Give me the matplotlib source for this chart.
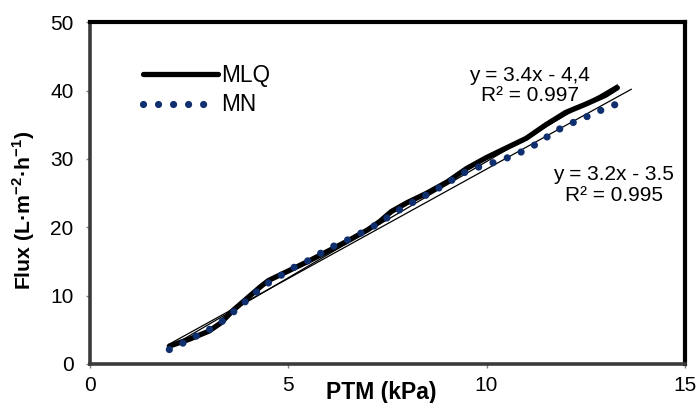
import matplotlib
matplotlib.use("Agg")
import matplotlib.pyplot as plt
import numpy as np

plt.rcParams['font.family'] = ['Liberation Sans', 'DejaVu Sans']

# MLQ series (PTM kPa, Flux)
mlq_x = [2.0, 2.5, 3.0, 3.3, 3.6, 4.0, 4.3, 4.5, 5.0, 5.5, 6.0, 6.5, 7.0, 7.3, 7.6,
         8.0, 8.5, 9.0, 9.5, 10.0, 10.5, 11.0, 11.5, 12.0, 12.5, 13.0, 13.3]
mlq_y = [2.6, 3.6, 4.8, 6.0, 7.8, 9.8, 11.3, 12.2, 13.6, 15.0, 16.5, 18.0, 19.6, 20.8, 22.3,
         23.6, 25.0, 26.6, 28.6, 30.2, 31.6, 33.0, 35.0, 36.8, 38.0, 39.3, 40.4]

# MN series
mn_x = [2.0, 2.4, 2.75, 3.1, 3.45, 3.75, 4.1, 4.4, 4.75, 5.1, 5.5, 5.85, 6.2, 6.6, 6.95,
        7.3, 7.65, 8.0, 8.35, 8.7, 9.05, 9.4, 9.8, 10.2, 10.6, 10.95, 11.3, 11.65, 12.0,
        12.4, 12.75, 13.15, 13.55]
mn_y = [2.1, 3.2, 4.3, 5.3, 6.7, 8.3, 10.0, 11.5, 12.7, 14.0, 15.1, 16.3, 17.4, 18.4, 19.5,
        20.6, 22.0, 23.2, 24.3, 25.4, 26.6, 27.9, 28.8, 29.5, 30.3, 31.2, 32.3, 33.7, 34.9,
        35.8, 36.8, 37.7, 38.7]

# trendlines (slope, intercept) as printed
trend_mlq = (3.4, -4.4)
trend_mn = (3.2, -3.5)
eq_mlq = ["y = 3.4x - 4,4", "R² = 0.997"]
eq_mn = ["y = 3.2x - 3.5", "R² = 0.995"]

fig = plt.figure(figsize=(6.98, 4.03), dpi=100)
ax = fig.add_axes([0.129, 0.097, 0.852, 0.848])

navy = '#0f2f6e'
ax.plot(mlq_x, mlq_y, color='black', lw=3.8, solid_capstyle='round',
        solid_joinstyle='round', label='MLQ', zorder=3)
ax.plot(mn_x, mn_y, color=navy, lw=5.2, linestyle=(0, (0.001, 2.08)),
        dash_capstyle='round', label='MN', zorder=5)

tx1 = np.array([mlq_x[0], mlq_x[-1]])
ax.plot(tx1, trend_mlq[0] * tx1 + trend_mlq[1], color='black', lw=0.9, zorder=4)
tx2 = np.array([mn_x[0], mn_x[-1] + 0.1])
ax.plot(tx2, trend_mn[0] * tx2 + trend_mn[1], color='black', lw=0.9, zorder=4)

ax.set_xlim(0, 15)
ax.set_ylim(0, 50)
ax.set_xticks([0, 5, 10, 15])
ax.set_yticks([0, 10, 20, 30, 40, 50])

for s in ['top', 'right']:
    ax.spines[s].set_color('black')
    ax.spines[s].set_linewidth(3.0)
for s in ['left', 'bottom']:
    ax.spines[s].set_color('#3a3a3a')
    ax.spines[s].set_linewidth(2.6)

ax.tick_params(axis='both', direction='out', length=3, width=1, color='#808080',
               labelsize=15, labelcolor='black')
ax.tick_params(axis='y', pad=9)
ax.tick_params(axis='x', pad=6)

ax.set_xlabel('PTM (kPa)', fontsize=16.5, fontweight='bold')
ax.xaxis.set_label_coords(0.49, -0.05)
ax.set_ylabel('Flux (L·m$^{\\mathregular{-2}}$·h$^{\\mathregular{-1}}$)', fontsize=15.3,
              fontweight='bold')
ax.yaxis.set_label_coords(-0.09, 0.45)

leg = ax.legend(loc='upper left', bbox_to_anchor=(0.074, 0.905), frameon=False,
                fontsize=16.3, handlelength=3.3, handletextpad=0.13, labelspacing=0.3,
                borderaxespad=0)

ax.text(11.09, 40.7, eq_mlq[0] + "\n" + eq_mlq[1], ha='center', va='center',
        fontsize=15, linespacing=1.05, multialignment='center')
ax.text(13.21, 26.2, eq_mn[0] + "\n" + eq_mn[1], ha='center', va='center',
        fontsize=15, linespacing=1.1, multialignment='center')

fig.savefig('out.png', dpi=100)
